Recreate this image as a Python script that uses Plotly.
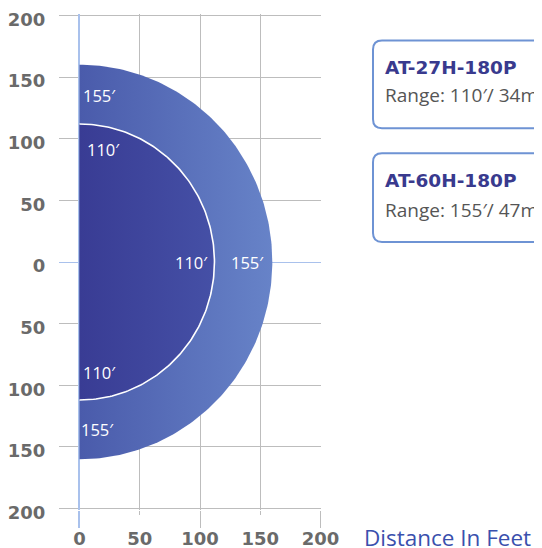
import numpy as np
import plotly.graph_objects as go

# ---- data ----
models = ["AT-27H-180P", "AT-60H-180P"]
range_labels = ["Range: 110′/ 34m", "Range: 155′/ 47m"]
range_feet_text = ["110′", "155′"]
drawn_radius = [112, 160]          # radii (feet)
x_ticks = [0, 50, 100, 150, 200]
x_long_ticks = [100, 200]
y_ticks = [-200, -150, -100, -50, 0, 50, 100, 150, 200]
y_tick_text = ["200", "150", "100", "50", "0", "50", "100", "150", "200"]

fig = go.Figure()

theta = np.linspace(-np.pi / 2, np.pi / 2, 181)

def half_disc(r):
    xs = np.concatenate([[0], r * np.cos(theta), [0]])
    ys = np.concatenate([[-r], r * np.sin(theta), [r]])
    return xs, ys

# outer (155')
xo, yo = half_disc(drawn_radius[1])
fig.add_trace(go.Scatter(x=xo, y=yo, mode="lines", line=dict(width=0),
                         fill="toself",
                         fillgradient=dict(type="horizontal",
                                           colorscale=[[0, "#4a5bab"], [1, "#6783c8"]]),
                         hoverinfo="skip", showlegend=False))
# inner (110')
xi, yi = half_disc(drawn_radius[0])
fig.add_trace(go.Scatter(x=xi, y=yi, mode="lines", line=dict(width=0),
                         fill="toself",
                         fillgradient=dict(type="horizontal",
                                           colorscale=[[0, "#393c94"], [1, "#4550a6"]]),
                         hoverinfo="skip", showlegend=False))
# white arc for inner boundary
fig.add_trace(go.Scatter(x=drawn_radius[0] * np.cos(theta), y=drawn_radius[0] * np.sin(theta),
                         mode="lines", line=dict(color="white", width=1.6),
                         hoverinfo="skip", showlegend=False))
# empty traces so the overlay axes (extra tick stubs) are drawn
fig.add_trace(go.Scatter(x=[], y=[], xaxis="x2", yaxis="y", showlegend=False, hoverinfo="skip"))
fig.add_trace(go.Scatter(x=[], y=[], xaxis="x3", yaxis="y", showlegend=False, hoverinfo="skip"))
fig.add_trace(go.Scatter(x=[], y=[], xaxis="x", yaxis="y2", showlegend=False, hoverinfo="skip"))

# white labels inside the coverage
label_pos = [
    (range_feet_text[1], 17, 135), (range_feet_text[0], 20, 91),
    (range_feet_text[0], 93, 0), (range_feet_text[1], 139, 0),
    (range_feet_text[0], 17, -90), (range_feet_text[1], 15, -136),
]
for t, lx, ly in label_pos:
    fig.add_annotation(x=lx, y=ly, text=t, showarrow=False,
                       font=dict(family="Open Sans", size=16.5, color="white"))

grid_col = "#bdbdbd"
zero_col = "#a9c1ec"
XR = [-0.4, 200.4]
YR = [-201.2, 201.2]
tick_font = dict(family="DejaVu Sans", size=18, color="#6a6a6a", weight="bold")

fig.update_layout(
    xaxis=dict(range=XR, tickvals=x_ticks, showgrid=True, gridcolor=grid_col,
               gridwidth=1, zeroline=True, zerolinecolor=zero_col, zerolinewidth=1.5,
               ticks="outside", ticklen=4, tickcolor=grid_col, showline=False,
               tickfont=tick_font, ticklabelstandoff=8, fixedrange=True, automargin=False,
               ticklabeloverflow="allow"),
    xaxis2=dict(range=XR, overlaying="x", anchor="y", side="bottom", tickvals=x_long_ticks,
                ticks="outside", ticklen=17, tickcolor=grid_col, showticklabels=False,
                showgrid=False, zeroline=False, showline=False, fixedrange=True,
                automargin=False),
    xaxis3=dict(range=XR, overlaying="x", anchor="y", side="bottom", tickvals=[0],
                ticks="outside", ticklen=17, tickcolor=zero_col, tickwidth=1.5,
                showticklabels=False, showgrid=False, zeroline=False, showline=False,
                fixedrange=True, automargin=False),
    yaxis=dict(range=YR, tickvals=y_ticks, ticktext=y_tick_text,
               showgrid=True, gridcolor=grid_col, gridwidth=1,
               zeroline=True, zerolinecolor=zero_col, zerolinewidth=1.2,
               ticks="outside", ticklen=19, tickcolor=grid_col, showline=False,
               tickfont=tick_font, ticklabelstandoff=10, ticklabelshift=4,
               fixedrange=True, automargin=False, ticklabeloverflow="allow"),
    yaxis2=dict(range=YR, overlaying="y", anchor="x", side="left", tickvals=[0],
                ticks="outside", ticklen=19, tickcolor=zero_col, tickwidth=1.2,
                showticklabels=False, showgrid=False, zeroline=False, showline=False,
                fixedrange=True, automargin=False),
)

# pixel positions of the page -> paper coords (plot area spans px 79..321, 13.5..510.5)
PL, PR, PT, PB = 79.0, 321.0, 13.5, 510.5
W, H = PR - PL, PB - PT
def px2paper(px, py):
    return (px - PL) / W, (PB - py) / H

# axis caption
cx, cy = px2paper(362, 538)
fig.add_annotation(xref="paper", yref="paper", x=cx, y=cy, xanchor="left",
                   yanchor="middle", text="Distance In Feet", showarrow=False,
                   font=dict(family="Open Sans", size=22.5, color="#3a50ad"))

def rounded_box(px0, py0, px1, py1, r=9):
    x0, y0 = px2paper(px0, py1)
    x1, y1 = px2paper(px1, py0)
    rx = r / W; ry = r / H
    return (f"M {x1},{y1} L {x0+rx},{y1} Q {x0},{y1} {x0},{y1-ry} "
            f"L {x0},{y0+ry} Q {x0},{y0} {x0+rx},{y0} L {x1},{y0}")

boxes = [(373, 40, 600, 128), (373, 153, 600, 242)]
title_py = [67, 180]
range_py = [95, 210]
for i in range(2):
    fig.add_shape(type="path", xref="paper", yref="paper", path=rounded_box(*boxes[i]),
                  line=dict(color="#6e93d4", width=2))
    tx, ty = px2paper(383, title_py[i])
    fig.add_annotation(xref="paper", yref="paper", x=tx, y=ty,
                       xanchor="left", yanchor="middle", text=models[i], showarrow=False,
                       font=dict(family="DejaVu Sans", size=18.5, color="#393a8e", weight="bold"))
    rx_, ry_ = px2paper(383, range_py[i])
    fig.add_annotation(xref="paper", yref="paper", x=rx_, y=ry_,
                       xanchor="left", yanchor="middle", text=range_labels[i], showarrow=False,
                       font=dict(family="Open Sans", size=19, color="#555555"))

# page body has an 8px margin: figure is 534x540 placed at (8, 8)
fig.update_layout(width=534, height=540,
                  margin=dict(l=PL - 8, r=534 - (PR - 8), t=PT - 8, b=540 - (PB - 8),
                              autoexpand=False),
                  plot_bgcolor="white", paper_bgcolor="white", showlegend=False)

fig.write_html("out.html")
